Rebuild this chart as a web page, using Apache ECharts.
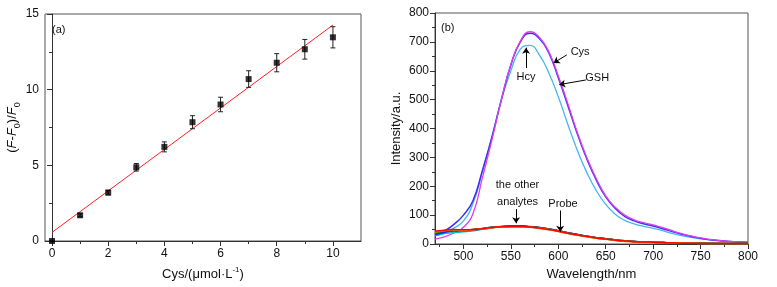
<!DOCTYPE html>
<html>
<head>
<meta charset="utf-8">
<script src="https://cdn.jsdelivr.net/npm/echarts@6/dist/echarts.min.js"></script>
<style>
  html, body { margin: 0; padding: 0; background: #fff; }
  #chart { width: 777px; height: 287px; }
</style>
</head>
<body>
<div id="chart"></div>
<script>
// (a) calibration: Cys concentration vs (F-F0)/F0
const cysConc = [0, 1, 2, 3, 4, 5, 6, 7, 8, 9, 10]
const ratio = [0, 1.7, 3.2, 4.87, 6.22, 7.85, 9.02, 10.7, 11.78, 12.67, 13.46]
const ratioErr = [0.05, 0.1, 0.15, 0.25, 0.33, 0.43, 0.48, 0.55, 0.6, 0.65, 0.7]
const fitLine = [[0, 0.57], [10, 14.27]]

// (b) emission spectra
const wavelength = [470, 480, 490, 500, 510, 520, 530, 540, 550, 560, 570, 580, 590, 600, 610, 620, 630,
  640, 650, 660, 670, 680, 690, 700, 710, 720, 730, 740, 750, 760, 770, 780, 790, 800]
const cysCurve = [17, 25, 38, 58, 105, 230, 360, 500, 622, 703, 735, 716, 666, 582, 487, 387, 300,
  227, 167, 127, 100, 84, 74, 66, 57, 46, 36, 28, 21, 16, 12, 9, 7, 6]
const gshCurve = [30, 45, 68, 100, 150, 255, 370, 500, 620, 700, 730, 712, 662, 576, 480, 382, 295,
  222, 163, 123, 96, 80, 70, 62, 53, 43, 34, 26, 20, 15, 12, 9, 7, 6]
const hcyCurve = [28, 38, 55, 80, 140, 250, 370, 500, 600, 675, 688, 655, 592, 510, 415, 325, 248,
  185, 137, 103, 82, 70, 61, 54, 46, 37, 29, 23, 18, 14, 11, 9, 7, 6]
const probeCurve = [38, 45, 48, 48, 50, 54, 58, 61, 62, 62, 60, 57, 52, 46, 39, 33, 27,
  22, 18, 14, 11, 9, 7, 6, 5, 4, 4, 3, 3, 3, 2, 2, 2, 2]
const otherCurves = [
  { color: '#00a000', data: [36, 44, 47, 47, 49, 53, 57, 60, 61, 61, 59, 56, 51, 45, 38, 32, 27,
    22, 18, 14, 11, 9, 7, 6, 5, 4, 4, 3, 3, 2, 2, 2, 2, 2] },
  { color: '#00c0d0', data: [30, 36, 40, 42, 46, 51, 56, 59, 60, 60, 58, 55, 50, 44, 38, 32, 26,
    21, 17, 13, 10, 8, 7, 6, 5, 4, 3, 3, 2, 2, 2, 2, 2, 2] },
  { color: '#2020ff', data: [33, 40, 45, 46, 48, 52, 57, 60, 62, 63, 61, 57, 52, 46, 39, 33, 27,
    22, 18, 14, 11, 9, 7, 6, 5, 4, 4, 3, 3, 2, 2, 2, 2, 2] },
  { color: '#808000', data: [40, 46, 48, 47, 49, 53, 57, 60, 61, 61, 59, 56, 51, 45, 38, 32, 27,
    22, 18, 14, 11, 9, 7, 6, 5, 4, 4, 3, 3, 2, 2, 2, 2, 2] },
  { color: '#ff8000', data: [42, 47, 49, 48, 49, 52, 56, 59, 60, 60, 58, 54, 49, 43, 36, 30, 25,
    20, 16, 12, 9, 7, 6, 5, 4, 4, 3, 3, 2, 2, 2, 2, 1, 1] },
  { color: '#ff0000', data: [45, 48, 50, 49, 50, 53, 57, 60, 61, 61, 59, 55, 50, 44, 37, 31, 26,
    21, 17, 13, 10, 8, 7, 6, 5, 4, 3, 3, 2, 2, 2, 2, 2, 2] }
]

// tick labels
const concTicks = [0, 2, 4, 6, 8, 10]
const concMinorTicks = [1, 3, 5, 7, 9]
const wlTicks = [500, 550, 600, 650, 700, 750, 800]
const wlMinorTicks = [475, 525, 575, 625, 675, 725, 775]

const font = 'Liberation Sans, Arial, sans-serif'
const axisColor = '#333'

const pairs = (ys) => wavelength.map((w, i) => [w, ys[i]])

function valueAxis(extra) {
  return Object.assign({
    type: 'value',
    splitLine: { show: false },
    axisLine: { show: true, lineStyle: { color: axisColor, width: 1 } },
    axisTick: { show: true, inside: false, length: 5, lineStyle: { color: axisColor } },
    axisLabel: { color: '#111', fontSize: 12, fontFamily: font },
    nameTextStyle: { color: '#111', fontSize: 13, fontFamily: font }
  }, extra)
}

function minorAxis(gridIndex, min, max, values) {
  return {
    type: 'value',
    gridIndex: gridIndex,
    position: 'bottom',
    min: min,
    max: max,
    splitLine: { show: false },
    axisLine: { show: false },
    axisLabel: { show: false },
    axisTick: { show: true, length: 3, customValues: values, lineStyle: { color: axisColor } }
  }
}

const chart = echarts.init(document.getElementById('chart'))

const lowSeries = otherCurves.map(c => ({
  type: 'line',
  xAxisIndex: 2,
  yAxisIndex: 1,
  data: pairs(c.data),
  smooth: true,
  showSymbol: false,
  lineStyle: { color: c.color, width: 1.5 },
  z: 3
}))

chart.setOption({
  backgroundColor: '#fff',
  animation: false,
  grid: [
    { left: 45, top: 14, width: 316, height: 229, show: true, borderColor: '#555', borderWidth: 1 },
    { left: 435, top: 13, width: 313, height: 231, show: true, borderColor: '#555', borderWidth: 1 }
  ],
  xAxis: [
    valueAxis({
      gridIndex: 0,
      min: -0.25,
      max: 11,
      axisTick: { show: true, length: 5, customValues: concTicks, lineStyle: { color: axisColor } },
      axisLabel: { color: '#111', fontSize: 12, fontFamily: font, margin: 7, customValues: concTicks },
      name: 'Cys/(μmol·L{sup|-1})',
      nameLocation: 'middle',
      nameGap: 25,
      nameTextStyle: {
        color: '#111', fontSize: 13, fontFamily: font, lineHeight: 16,
        rich: { sup: { fontSize: 8, verticalAlign: 'top', lineHeight: 8, fontFamily: font, color: '#111' } }
      }
    }),
    minorAxis(0, -0.25, 11, concMinorTicks),
    valueAxis({
      gridIndex: 1,
      min: 470,
      max: 800,
      axisTick: { show: true, length: 5, customValues: wlTicks, lineStyle: { color: axisColor } },
      axisLabel: { color: '#111', fontSize: 12, fontFamily: font, margin: 7, customValues: wlTicks },
      name: 'Wavelength/nm',
      nameLocation: 'middle',
      nameGap: 23
    }),
    minorAxis(1, 470, 800, wlMinorTicks)
  ],
  yAxis: [
    valueAxis({
      gridIndex: 0,
      min: 0,
      max: 15,
      interval: 5,
      minorTick: { show: true, splitNumber: 2, length: 3, lineStyle: { color: axisColor } },
      axisLabel: { color: '#111', fontSize: 12, fontFamily: font, margin: 6 },
      name: '({i|F}-{i|F}{sub|0})/{i|F}{sub|0}',
      nameLocation: 'middle',
      nameGap: 22,
      nameTextStyle: {
        color: '#111', fontSize: 13, fontFamily: font, lineHeight: 18,
        rich: {
          i: { fontStyle: 'italic', fontSize: 13, fontFamily: font, color: '#111' },
          sub: { fontSize: 9, verticalAlign: 'bottom', lineHeight: 9, fontFamily: font, color: '#111' }
        }
      }
    }),
    valueAxis({
      gridIndex: 1,
      min: 0,
      max: 800,
      interval: 100,
      minorTick: { show: true, splitNumber: 2, length: 3, lineStyle: { color: axisColor } },
      axisLabel: { color: '#111', fontSize: 12, fontFamily: font, margin: 6 },
      name: 'Intensity/a.u.',
      nameLocation: 'middle',
      nameGap: 32
    })
  ],
  graphic: [
    { type: 'text', left: 52, top: 24, style: { text: '(a)', fontSize: 11, fontFamily: font, fill: '#111' } },
    { type: 'text', left: 441, top: 22, style: { text: '(b)', fontSize: 11, fontFamily: font, fill: '#111' } }
  ],
  series: [
    {
      type: 'line',
      xAxisIndex: 0,
      yAxisIndex: 0,
      data: fitLine,
      showSymbol: false,
      lineStyle: { color: '#ff2020', width: 1 },
      z: 2
    },
    {
      type: 'custom',
      xAxisIndex: 0,
      yAxisIndex: 0,
      data: cysConc.map((x, i) => [x, ratio[i] - ratioErr[i], ratio[i] + ratioErr[i]]),
      renderItem(params, api) {
        const lo = api.coord([api.value(0), api.value(1)])
        const hi = api.coord([api.value(0), api.value(2)])
        const w = 2.5
        const style = { stroke: '#222', lineWidth: 1 }
        return {
          type: 'group',
          children: [
            { type: 'line', shape: { x1: lo[0], y1: lo[1], x2: hi[0], y2: hi[1] }, style },
            { type: 'line', shape: { x1: lo[0] - w, y1: lo[1], x2: lo[0] + w, y2: lo[1] }, style },
            { type: 'line', shape: { x1: hi[0] - w, y1: hi[1], x2: hi[0] + w, y2: hi[1] }, style }
          ]
        }
      },
      z: 3
    },
    {
      type: 'scatter',
      xAxisIndex: 0,
      yAxisIndex: 0,
      data: cysConc.map((x, i) => [x, ratio[i]]),
      symbol: 'rect',
      symbolSize: 6,
      itemStyle: { color: '#000' },
      z: 4
    },
    {
      type: 'line',
      xAxisIndex: 2,
      yAxisIndex: 1,
      data: pairs(hcyCurve),
      smooth: true,
      showSymbol: false,
      lineStyle: { color: '#45b6f2', width: 1.3 },
      z: 2
    },
    {
      type: 'line',
      xAxisIndex: 2,
      yAxisIndex: 1,
      data: pairs(gshCurve),
      smooth: true,
      showSymbol: false,
      lineStyle: { color: '#3a2ff0', width: 1.5 },
      z: 2
    },
    {
      type: 'line',
      xAxisIndex: 2,
      yAxisIndex: 1,
      data: pairs(cysCurve),
      smooth: true,
      showSymbol: false,
      lineStyle: { color: '#e23cf0', width: 1.3 },
      z: 2
    },
    {
      type: 'line',
      xAxisIndex: 2,
      yAxisIndex: 1,
      data: pairs(probeCurve),
      smooth: true,
      showSymbol: false,
      lineStyle: { color: '#000', width: 1.5 },
      z: 3
    }
  ].concat(lowSeries).concat([
    {
      // annotations: arrows and labels
      type: 'line',
      xAxisIndex: 2,
      yAxisIndex: 1,
      data: [],
      z: 5,
      markLine: {
        silent: true,
        symbol: ['none', 'arrow'],
        symbolSize: 6,
        label: { show: false },
        lineStyle: { color: '#000', type: 'solid', width: 1 },
        data: [
          [{ coord: [609, 655] }, { coord: [595, 627] }],
          [{ coord: [629, 568] }, { coord: [601, 552] }],
          [{ coord: [566, 609] }, { coord: [566, 680] }],
          [{ coord: [555.5, 121] }, { coord: [555.5, 72] }],
          [{ coord: [602, 116] }, { coord: [602, 42] }]
        ]
      },
      markPoint: {
        silent: true,
        symbol: 'circle',
        symbolSize: 0,
        itemStyle: { color: 'transparent' },
        label: { show: true, position: 'inside', formatter: '{b}', color: '#111', fontSize: 11, fontFamily: font },
        data: [
          { name: 'Cys', coord: [623, 664] },
          { name: 'GSH', coord: [641, 574] },
          { name: 'Hcy', coord: [566, 580] },
          { name: 'the other', coord: [557, 205] },
          { name: 'analytes', coord: [557, 146] },
          { name: 'Probe', coord: [605, 140] }
        ]
      }
    }
  ])
})
</script>
</body>
</html>
